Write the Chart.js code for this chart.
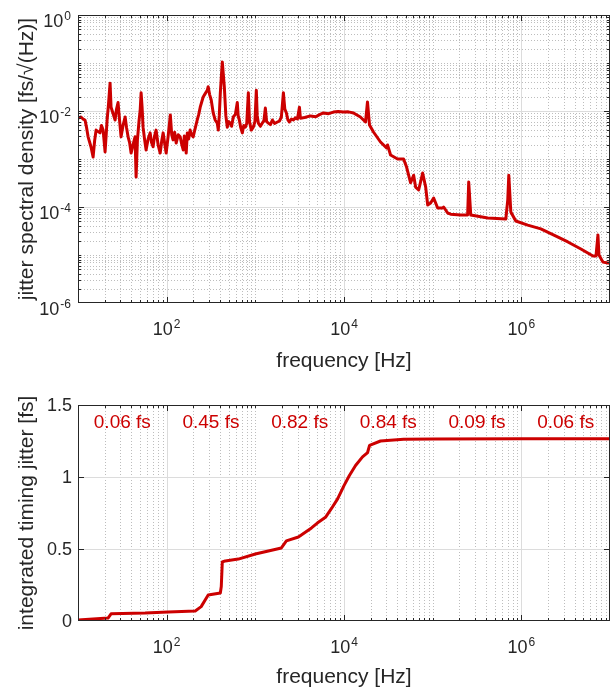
<!DOCTYPE html>
<html>
<head>
<meta charset="utf-8">
<script src="https://cdn.jsdelivr.net/npm/chart.js@4.4.1/dist/chart.umd.min.js"></script>
<style>
  body { margin: 0; background: #fff; width: 611px; height: 690px; position: relative; overflow: hidden; }
  canvas { position: absolute; left: 0; }
</style>
</head>
<body>
<canvas id="psdChart" width="611" height="390" style="top:0"></canvas>
<canvas id="intChart" width="611" height="300" style="top:390px"></canvas>
<script>
// spectral density (top panel)
const freq = [10, 10.8, 11.4, 12, 12.5, 13, 14, 14.8, 15.4, 16, 17.7, 18.4, 19.2, 20.2, 21.3, 22.1, 23, 23.6, 24.8, 26.2,
  27.2, 28.3, 29.4, 30.6, 32.2, 34, 35.3, 36.7, 38.2, 39.7, 41.8, 44, 45.2, 46.8, 48.9, 50.2, 51.5, 52.8, 54.2, 56.3,
  58.6, 61.8, 65.1, 67.5, 70.3, 73, 76, 80, 84.5, 88, 91.3, 95, 98.7, 104, 110, 114, 118, 123, 128, 135,
  142, 148, 154, 158, 162, 166, 171, 177, 184, 191, 199, 210, 221, 230, 239, 258, 272, 287, 294, 305,
  318, 335, 352, 372, 382, 392, 403, 424, 447, 465, 483, 500, 522, 540, 564, 595, 626, 640, 660, 685,
  713, 740, 771, 800, 834, 860, 901, 949, 990, 1026, 1050, 1081, 1140, 1200, 1250, 1297, 1340, 1403, 1480, 1557,
  1650, 1773, 1870, 1967, 2072, 2150, 2240, 2330, 2422, 2550, 2686, 2830, 2985, 3142, 3223, 3600, 4180, 4800, 5300, 5860,
  6700, 7600, 8600, 9860, 11200, 12800, 15300, 17500, 18400, 19400, 21500, 25800, 30200, 31000, 33500, 40200, 47000, 50800, 56400, 61000,
  64200, 69500, 77100, 83400, 87900, 94900, 102600, 113800, 129700, 133000, 147600, 159600, 207000, 248000, 255000, 269000, 418000, 668000, 703000, 722000,
  761000, 866000, 1.18e6, 1.66e6, 2.33e6, 3.35e6, 4.7e6, 6.43e6, 6.95e6, 7.31e6, 7.51e6, 8.33e6, 9.48e6, 1e7];
const psd = [7.1e-3, 7.5e-3, 6.8e-3, 6.5e-3, 4.5e-3, 2.9e-3, 1.8e-3, 1.1e-3, 2.4e-3, 4.0e-3, 3.5e-3, 5.0e-3, 4.0e-3, 1.4e-3, 6.5e-3, 1.4e-2, 3.8e-2, 1.2e-2, 9e-3, 6.5e-3,
  1.1e-2, 1.5e-2, 6.5e-3, 2.9e-3, 5e-3, 7.5e-3, 4.5e-3, 2.9e-3, 2.2e-3, 1.33e-3, 2.0e-3, 2.9e-3, 4.2e-4, 2.5e-3, 6.5e-3, 1.0e-2, 2.4e-2, 1.2e-2, 4.6e-3, 2.6e-3,
  1.54e-3, 2.6e-3, 3.5e-3, 2.2e-3, 1.8e-3, 3.0e-3, 4.0e-3, 2.0e-3, 1.33e-3, 2.4e-3, 3.5e-3, 2.1e-3, 1.33e-3, 3.0e-3, 8.3e-3, 3.2e-3, 2.5e-3, 3.6e-3, 2.15e-3, 3.2e-3,
  2.9e-3, 2.0e-3, 1.54e-3, 3.0e-3, 2.5e-3, 1.33e-3, 3.5e-3, 2.6e-3, 4.0e-3, 3.2e-3, 2.9e-3, 4.4e-3, 6.5e-3, 8.5e-3, 1.2e-2, 1.96e-2, 2.3e-2, 2.7e-2, 3.2e-2, 2.2e-2,
  1.7e-2, 9.1e-3, 6.5e-3, 5.6e-3, 4.0e-3, 8e-3, 2.4e-2, 0.105, 3.2e-2, 8e-3, 4.6e-3, 6.0e-3, 5.6e-3, 4.8e-3, 7.5e-3, 8.5e-3, 1.5e-2, 8e-3, 6.5e-3, 4.5e-3,
  3.5e-3, 5e-3, 4.6e-3, 5.5e-3, 2.4e-2, 6e-3, 4.0e-3, 4.6e-3, 6e-3, 2.7e-2, 8e-3, 5.6e-3, 4.8e-3, 5.6e-3, 6.3e-3, 1.15e-2, 6e-3, 5.6e-3, 5.2e-3, 6.5e-3,
  5.5e-3, 5.9e-3, 6.2e-3, 7.5e-3, 2.4e-2, 1.1e-2, 9.1e-3, 6.5e-3, 5.9e-3, 6.8e-3, 6.5e-3, 7.2e-3, 6.8e-3, 1.2e-2, 7.1e-3, 7.3e-3, 7.9e-3, 7.6e-3, 8.4e-3, 9.1e-3,
  8.8e-3, 9.5e-3, 9.8e-3, 9.5e-3, 9.6e-3, 9.1e-3, 7.5e-3, 5.9e-3, 1.54e-2, 5.1e-3, 3.65e-3, 2.26e-3, 1.7e-3, 1.96e-3, 1.21e-3, 1.0e-3, 1.0e-3, 6.8e-4, 3.2e-4, 4.6e-4,
  2.6e-4, 2.26e-4, 5.1e-4, 2.6e-4, 1.1e-4, 1.21e-4, 1.54e-4, 9.5e-5, 9.5e-5, 1.0e-4, 7.5e-5, 7.1e-5, 6.8e-5, 6.8e-5, 3.3e-4, 6.8e-5, 5.9e-5, 5.6e-5, 1.4e-4, 4.6e-4,
  7.9e-5, 5.1e-5, 4.2e-5, 3.5e-5, 2.6e-5, 1.87e-5, 1.33e-5, 9.5e-6, 9.5e-6, 2.6e-5, 1.0e-5, 7.1e-6, 6.8e-6, 6.8e-6];

// integrated timing jitter (bottom panel)
const intFreq = [10, 21.8, 23.6, 57.1, 104, 210, 245, 294, 403, 413, 424, 458, 643, 1000, 1967, 2240, 3060, 4300, 5000, 6180,
  7200, 8500, 10000, 11500, 13500, 16180, 18450, 19420, 25800, 47000, 1e5, 1e6, 1e7];
const intJitter = [0.007, 0.02, 0.05, 0.055, 0.062, 0.07, 0.10, 0.18, 0.195, 0.24, 0.41, 0.417, 0.43, 0.465, 0.507, 0.556, 0.583, 0.646, 0.68, 0.72,
  0.78, 0.85, 0.94, 1.01, 1.08, 1.14, 1.17, 1.22, 1.25, 1.262, 1.264, 1.265, 1.265];

// per-decade jitter contributions
const bandCenters = [31.6, 316, 3162, 31623, 316228, 3162278];
const bandLabels = ["0.06 fs", "0.45 fs", "0.82 fs", "0.84 fs", "0.09 fs", "0.06 fs"];
const bandLevel = 1.375;

// tick labels
const xTickExps = [2, 4, 6];
const psdTickExps = [0, -2, -4, -6];
const intTicks = [0, 0.5, 1, 1.5];

const RED = "#cc0000";
const INK = "#262626";
const FONT = "'Liberation Sans', Arial, Helvetica, sans-serif";

function decadeMinors(e0, e1, majors) {
  const out = [];
  for (let e = e0; e < e1; e++) {
    if (!majors.includes(e)) out.push(Math.pow(10, e));
    for (let d = 2; d <= 9; d++) out.push(d * Math.pow(10, e));
  }
  return out;
}

function seg(ctx, x1, y1, x2, y2) {
  ctx.beginPath(); ctx.moveTo(x1, y1); ctx.lineTo(x2, y2); ctx.stroke();
}

function drawPow(ctx, exp, x, y, align) {
  ctx.font = "18px " + FONT;
  const w1 = ctx.measureText("10").width;
  ctx.font = "12px " + FONT;
  const w2 = ctx.measureText(String(exp)).width;
  const w = w1 + w2 + 1;
  const x0 = align === "right" ? x - w : x - w / 2;
  ctx.textAlign = "left";
  ctx.textBaseline = "alphabetic";
  ctx.font = "18px " + FONT;
  ctx.fillText("10", x0, y);
  ctx.font = "12px " + FONT;
  ctx.fillText(String(exp), x0 + w1 + 1, y - 7);
}

const matlabAxes = {
  id: "matlabAxes",
  beforeDatasetsDraw(chart, args, o) {
    const { ctx, chartArea: a, scales: { x, y } } = chart;
    ctx.save();
    ctx.lineWidth = 1;
    ctx.strokeStyle = "#bdbdbd";
    ctx.setLineDash([1, 2]);
    o.xMinor.forEach(v => { const p = Math.round(x.getPixelForValue(v)) + 0.5; seg(ctx, p, a.top, p, a.bottom); });
    o.yMinor.forEach(v => { const p = Math.round(y.getPixelForValue(v)) + 0.5; seg(ctx, a.left, p, a.right, p); });
    ctx.setLineDash([]);
    ctx.strokeStyle = "#dcdcdc";
    o.xMajor.forEach(v => { const p = Math.round(x.getPixelForValue(v)) + 0.5; seg(ctx, p, a.top, p, a.bottom); });
    o.yMajor.forEach(v => { const p = Math.round(y.getPixelForValue(v)) + 0.5; seg(ctx, a.left, p, a.right, p); });
    ctx.restore();
  },
  afterDatasetsDraw(chart, args, o) {
    const { ctx, chartArea: a, scales: { x, y } } = chart;
    ctx.save();
    ctx.strokeStyle = INK;
    ctx.fillStyle = INK;
    ctx.lineWidth = 1;
    ctx.strokeRect(a.left + 0.5, a.top + 0.5, a.right - a.left - 1, a.bottom - a.top - 1);
    // tick marks on all four sides
    const xt = (v, len) => { const p = Math.round(x.getPixelForValue(v)) + 0.5; seg(ctx, p, a.bottom, p, a.bottom - len); seg(ctx, p, a.top, p, a.top + len); };
    const yt = (v, len) => { const p = Math.round(y.getPixelForValue(v)) + 0.5; seg(ctx, a.left, p, a.left + len, p); seg(ctx, a.right, p, a.right - len, p); };
    o.xMinor.forEach(v => xt(v, 3));
    o.xMajor.forEach(v => xt(v, 6));
    o.yMinor.forEach(v => yt(v, 3));
    o.yMajor.forEach(v => yt(v, 6));
    // x tick labels
    xTickExps.forEach(e => drawPow(ctx, e, x.getPixelForValue(Math.pow(10, e)), a.bottom + 32, "center"));
    // y tick labels
    if (o.logY) {
      psdTickExps.forEach(e => drawPow(ctx, e, 71, y.getPixelForValue(Math.pow(10, e)) + 12, "right"));
    } else {
      ctx.font = "18px " + FONT;
      ctx.textAlign = "right";
      ctx.textBaseline = "middle";
      intTicks.forEach(v => ctx.fillText(String(v), 72, y.getPixelForValue(v) + 1));
    }
    // axis titles
    ctx.font = "21px " + FONT;
    ctx.textAlign = "center";
    ctx.textBaseline = "alphabetic";
    ctx.fillText("frequency [Hz]", (a.left + a.right) / 2, a.bottom + o.xTitleGap);
    ctx.save();
    ctx.translate(33, (a.top + a.bottom) / 2);
    ctx.rotate(-Math.PI / 2);
    ctx.fillText(o.yTitle, 0, 0);
    ctx.restore();
    // band annotations
    if (o.bands) {
      ctx.fillStyle = RED;
      ctx.font = "19px " + FONT;
      ctx.textAlign = "center";
      ctx.textBaseline = "middle";
      bandCenters.forEach((f, i) => ctx.fillText(bandLabels[i], x.getPixelForValue(f), y.getPixelForValue(bandLevel)));
    }
    ctx.restore();
  }
};

const xMinorTicks = decadeMinors(1, 7, [2, 4, 6]);
const xMajorTicks = [100, 1e4, 1e6];

function hiddenScale(extra, fit) {
  return Object.assign({
    ticks: { display: false },
    grid: { display: false },
    border: { display: false },
    afterFit: fit
  }, extra);
}

function lineData(xs, ys) {
  return [{
    data: xs.map((f, i) => ({ x: f, y: ys[i] })),
    borderColor: RED,
    borderWidth: 3,
    pointRadius: 0,
    tension: 0,
    borderJoinStyle: "round",
    borderCapStyle: "round"
  }];
}

new Chart(document.getElementById("psdChart"), {
  type: "line",
  data: { datasets: lineData(freq, psd) },
  options: {
    responsive: false,
    animation: false,
    events: [],
    layout: { padding: { top: 15, right: 1, left: 0, bottom: 0 } },
    scales: {
      x: hiddenScale({ type: "logarithmic", min: 10, max: 1e7 }, s => { s.height = 87; }),
      y: hiddenScale({ type: "logarithmic", min: 1e-6, max: 1 }, s => { s.width = 78; })
    },
    plugins: {
      legend: { display: false },
      tooltip: { enabled: false },
      matlabAxes: {
        xMinor: xMinorTicks, xMajor: xMajorTicks,
        yMinor: decadeMinors(-6, 0, [-6, -4, -2]), yMajor: [1e-2, 1e-4],
        logY: true, xTitleGap: 64,
        yTitle: "jitter spectral density [fs/\u221A(Hz)]"
      }
    }
  },
  plugins: [matlabAxes]
});

new Chart(document.getElementById("intChart"), {
  type: "line",
  data: { datasets: lineData(intFreq, intJitter) },
  options: {
    responsive: false,
    animation: false,
    events: [],
    layout: { padding: { top: 15, right: 1, left: 0, bottom: 0 } },
    scales: {
      x: hiddenScale({ type: "logarithmic", min: 10, max: 1e7 }, s => { s.height = 69; }),
      y: hiddenScale({ type: "linear", min: 0, max: 1.5 }, s => { s.width = 78; })
    },
    plugins: {
      legend: { display: false },
      tooltip: { enabled: false },
      matlabAxes: {
        xMinor: xMinorTicks, xMajor: xMajorTicks,
        yMinor: [], yMajor: [0.5, 1],
        logY: false, xTitleGap: 62, bands: true,
        yTitle: "integrated timing jitter [fs]"
      }
    }
  },
  plugins: [matlabAxes]
});
</script>
</body>
</html>
